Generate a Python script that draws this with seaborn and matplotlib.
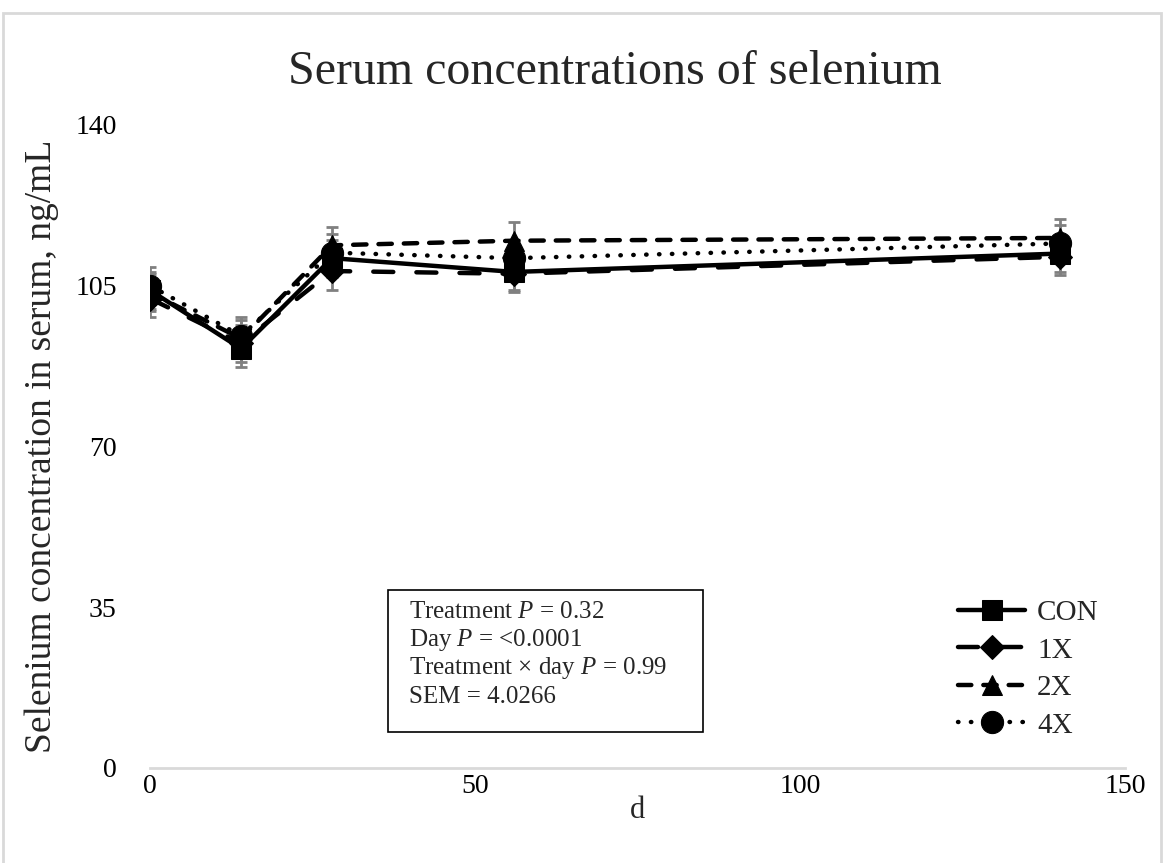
import matplotlib
matplotlib.use("Agg")
import matplotlib.pyplot as plt
from matplotlib.patches import Rectangle
import seaborn as sns
import pandas as pd

# Sampling days and mean serum selenium (ng/mL) per treatment
days = [0, 14, 28, 56, 140]
con = [104.0, 91.3, 111.0, 108.0, 112.0]
x1 = [102.2, 92.5, 108.2, 107.6, 111.3]
x2 = [103.5, 93.5, 113.8, 114.8, 115.4]
x4 = [105.0, 94.1, 112.2, 111.0, 114.2]
sem = 4.0266

treatments = ["CON", "1X", "2X", "4X"]
values = {"CON": con, "1X": x1, "2X": x2, "4X": x4}

y_ticks = [0, 35, 70, 105, 140]
x_ticks = [0, 50, 100, 150]

stats_lines = [
    r"Treatment $\mathit{P}$ = 0.32",
    r"Day $\mathit{P}$ = <0.0001",
    r"Treatment × day $\mathit{P}$ = 0.99",
    "SEM = 4.0266",
]

df = pd.DataFrame(
    [(t, d, v) for t in treatments for d, v in zip(days, values[t])],
    columns=["Treatment", "Day", "Se"],
)

sns.set_theme(style="white")
plt.rcParams["font.family"] = ["Liberation Serif", "DejaVu Serif"]
plt.rcParams["mathtext.fontset"] = "custom"
plt.rcParams["mathtext.it"] = "Liberation Serif:italic"
plt.rcParams["mathtext.rm"] = "Liberation Serif"

fig = plt.figure(figsize=(11.65, 8.63), dpi=100)
ax = fig.add_axes([0.1288, 0.1101, 0.8369, 0.7451])

styles = {
    "CON": dict(marker="s", dashes=None),
    "1X": dict(marker="D", dashes=(4.5, 5.2)),
    "2X": dict(marker="^", dashes=(3.0, 2.7)),
    "4X": dict(marker="o", dashes=(0.1, 2.8)),
}
msize = {"CON": 15, "1X": 12, "2X": 15, "4X": 16}

# SEM error bars behind the treatment lines
for t in treatments:
    sub = df[df["Treatment"] == t]
    ax.errorbar(sub["Day"], sub["Se"], yerr=sem, fmt="none", ecolor="#808080",
                elinewidth=2, capsize=4.5, capthick=2, zorder=1)

for t in treatments:
    sub = df[df["Treatment"] == t]
    st = styles[t]
    sns.lineplot(data=sub, x="Day", y="Se", ax=ax, color="black", label=t,
                 zorder=3, linewidth=3.2, marker=st["marker"],
                 markersize=msize[t], markeredgecolor="black",
                 markerfacecolor="black", solid_capstyle="round",
                 dash_capstyle="round")
    if st["dashes"] is not None:
        ax.lines[-1].set_dashes(st["dashes"])

ax.set_xlim(0, 150)
ax.set_ylim(0, 140)
ax.set_xticks(x_ticks)
ax.set_yticks(y_ticks)
ax.tick_params(axis="both", length=0, labelsize=20, colors="black")
ax.tick_params(axis="y", pad=24)
ax.tick_params(axis="x", pad=4)

for s in ["top", "right", "left"]:
    ax.spines[s].set_visible(False)
ax.spines["bottom"].set_color("#d9d9d9")
ax.spines["bottom"].set_linewidth(2)

ax.set_xlabel("d", fontsize=22, labelpad=-2)
ax.set_ylabel("Selenium concentration in serum, ng/mL", fontsize=27, labelpad=12)
fig.text(0.528, 0.916, "Serum concentrations of selenium", fontsize=34.5,
         ha="center", va="center")

# Statistics box
ax.add_patch(Rectangle((0.244, 0.056), 0.323, 0.221, transform=ax.transAxes,
                       fill=False, edgecolor="black", linewidth=1.2,
                       zorder=4))
for line, yf in zip(stats_lines, [0.2426, 0.1991, 0.1555, 0.1104]):
    ax.text(0.2656, yf, line, transform=ax.transAxes, fontsize=18,
            ha="left", va="center", zorder=5)

handles, labels = ax.get_legend_handles_labels()
ax.legend(handles, labels, loc="lower right", bbox_to_anchor=(1.0, 0.005),
          frameon=False, fontsize=21, handlelength=2.3, labelspacing=0.38,
          handletextpad=0.4)

fig.patches.append(Rectangle((3 / 1165, -0.01), 1158 / 1165, 0.9953,
                             transform=fig.transFigure, fill=False,
                             edgecolor="#d9d9d9", linewidth=2))

fig.savefig("out.png", dpi=100, facecolor="white")
